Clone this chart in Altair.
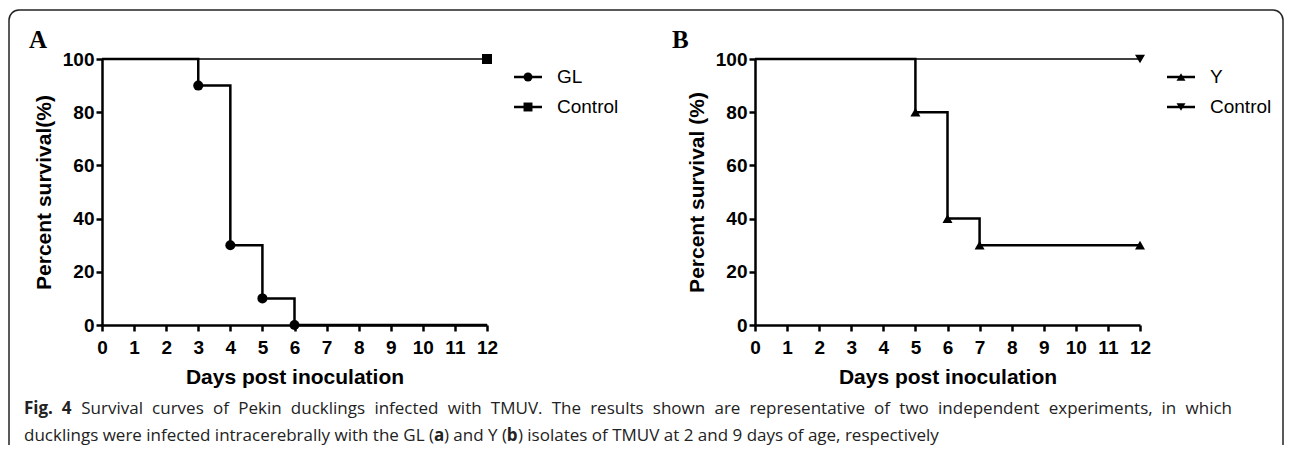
import math
import altair as alt
import pandas as pd

# ---------------- data ----------------
# Panel A: GL isolate
a_days = [0, 3, 4, 5, 6, 12]
a_surv = [100, 90, 30, 10, 0, 0]
a_mark = [False, True, True, True, True, False]
a_ctrl_days = [0, 12]
a_ctrl_surv = [100, 100]
a_ctrl_mark = [False, True]

# Panel B: Y isolate
b_days = [0, 5, 6, 7, 12]
b_surv = [100, 80, 40, 30, 30]
b_mark = [False, True, True, True, True]
b_ctrl_days = [0, 12]
b_ctrl_surv = [100, 100]
b_ctrl_mark = [False, True]

x_ticks = list(range(0, 13))
y_ticks = [0, 20, 40, 60, 80, 100]

caption_line1_runs = [("Fig. 4", True),
                      ("Survival curves of Pekin ducklings infected with TMUV. The results shown are "
                       "representative of two independent experiments, in which", False)]
caption_line2_runs = [("ducklings were infected intracerebrally with the GL (", False), ("a", True),
                      (") and Y (", False), ("b", True),
                      (") isolates of TMUV at 2 and 9 days of age, respectively", False)]

W, H = 385, 266
LABEL_FONT = "Liberation Sans"
CAP_FONT = "Open Sans"
CAP_SIZE = 17
CAP_COL = "#222222"

# approximate Open Sans advance widths (units per 2048 em) used only for caption text layout
_ADV = {" ": 532, "a": 1139, "b": 1255, "c": 975, "d": 1255, "e": 1149, "f": 694, "g": 1122,
        "h": 1257, "i": 518, "j": 518, "k": 1075, "l": 518, "m": 1905, "n": 1257, "o": 1237,
        "p": 1255, "q": 1255, "r": 836, "s": 977, "t": 723, "u": 1257, "v": 1026, "w": 1593,
        "x": 1073, "y": 1028, "z": 959, "F": 1057, "G": 1491, "L": 1073, "M": 1849, "P": 1233,
        "S": 1104, "T": 1112, "U": 1499, "V": 1217, "Y": 1141, ".": 545, ",": 492, "(": 596,
        ")": 596}


def text_w(s, bold):
    w = sum(_ADV.get(c, 1171) for c in s) / 2048.0 * CAP_SIZE
    return w * (1.06 if bold else 1.0)


def frame(days, surv, mark):
    return pd.DataFrame({"day": days, "surv": surv, "mark": mark})


def txt(s, x, y, bold=False, align="left"):
    return alt.Chart().mark_text(text=s, align=align, baseline="middle", font=CAP_FONT,
                                 fontSize=CAP_SIZE, fontWeight="bold" if bold else "normal",
                                 color=CAP_COL).encode(x=alt.value(x), y=alt.value(y))


def justified_line(runs, x0, x1, y):
    words = []
    for s, b in runs:
        for wd in s.split(" "):
            words.append((wd, b))
    widths = [text_w(wd, b) for wd, b in words]
    gap = (x1 - x0 - sum(widths)) / (len(words) - 1)
    out, x = [], x0
    for i, ((wd, b), w) in enumerate(zip(words, widths)):
        if i == len(words) - 1:
            out.append(txt(wd, x1, y, b, align="right"))
        else:
            out.append(txt(wd, x, y, b))
        x += w + gap
    return out


def plain_line(runs, x0, y):
    out, x = [], x0
    for s, b in runs:
        out.append(txt(s, x, y, b))
        x += text_w(s, b)
    return out


def panel(df, ctrl, shape, ctrl_shape, name, ytitle, letter, letter_dx):
    x = alt.X("day:Q", scale=alt.Scale(domain=[0, 12], nice=False, zero=False),
              axis=alt.Axis(values=x_ticks, title="Days post inoculation", format="d"))
    y = alt.Y("surv:Q", scale=alt.Scale(domain=[0, 100], nice=False),
              axis=alt.Axis(values=y_ticks, title=ytitle, format="d"))

    ctrl_line = alt.Chart(ctrl).mark_line(interpolate="step-after", color="black",
                                          strokeWidth=1.5).encode(x=x, y=y)
    main_line = alt.Chart(df).mark_line(interpolate="step-after", color="black",
                                        strokeWidth=2.5).encode(x=x, y=y)
    main_pts = alt.Chart(df).transform_filter("datum.mark").mark_point(
        filled=True, shape=shape, size=100, color="black", opacity=1).encode(x=x, y=y)
    ctrl_pts = alt.Chart(ctrl).transform_filter("datum.mark").mark_point(
        filled=True, shape=ctrl_shape, size=100, color="black", opacity=1).encode(x=x, y=y)

    layers = [ctrl_line, main_line, main_pts, ctrl_pts]

    # legend (manual, to show line + marker symbols)
    for lbl, shp, ly in [(name, shape, 18), ("Control", ctrl_shape, 48)]:
        layers.append(alt.Chart().mark_rule(color="black", strokeWidth=2.5).encode(
            x=alt.value(412), x2=alt.value(440), y=alt.value(ly)))
        layers.append(alt.Chart().mark_point(filled=True, shape=shp, size=80, color="black",
                                             opacity=1).encode(
            x=alt.value(426), y=alt.value(ly)))
        layers.append(alt.Chart().mark_text(text=lbl, align="left", baseline="middle",
                                            font=LABEL_FONT, fontSize=19, color="black").encode(
            x=alt.value(455), y=alt.value(ly)))

    # panel letter
    layers.append(alt.Chart().mark_text(text=letter, align="left", baseline="alphabetic",
                                        font="Liberation Serif", fontWeight="bold",
                                        fontSize=25, color="black").encode(
        x=alt.value(letter_dx), y=alt.value(-11)))
    return layers


A_layers = panel(frame(a_days, a_surv, a_mark), frame(a_ctrl_days, a_ctrl_surv, a_ctrl_mark),
                 "circle", "square", "GL", "Percent survival(%)", "A", -73)
B_layers = panel(frame(b_days, b_surv, b_mark), frame(b_ctrl_days, b_ctrl_surv, b_ctrl_mark),
                 "triangle-up", "triangle-down", "Y", "Percent survival (%)", "B", -83)

# ---------------- figure frame + caption (attached to panel A coordinates) ----------------
L, T, R, BOT, RAD = -93, -49, 1181, 386, 10
frame_col = "#222222"
deco = [
    alt.Chart().mark_rule(color=frame_col, strokeWidth=1.5).encode(
        x=alt.value(L), y=alt.value(T + RAD), y2=alt.value(BOT)),
    alt.Chart().mark_rule(color=frame_col, strokeWidth=1.5).encode(
        x=alt.value(R), y=alt.value(T + RAD), y2=alt.value(BOT)),
    alt.Chart().mark_rule(color=frame_col, strokeWidth=1.5).encode(
        x=alt.value(L + RAD), x2=alt.value(R - RAD), y=alt.value(T)),
    alt.Chart().mark_arc(theta=1.5 * math.pi, theta2=2 * math.pi, radius=RAD + 0.75,
                         radius2=RAD - 0.75, color=frame_col).encode(
        x=alt.value(L + RAD), y=alt.value(T + RAD)),
    alt.Chart().mark_arc(theta=0, theta2=0.5 * math.pi, radius=RAD + 0.75,
                         radius2=RAD - 0.75, color=frame_col).encode(
        x=alt.value(R - RAD), y=alt.value(T + RAD)),
]
deco += justified_line(caption_line1_runs, -78, 1130, 350)
deco += plain_line(caption_line2_runs, -78, 377)

chart_a = alt.layer(*(deco + A_layers)).properties(width=W, height=H)
chart_b = alt.layer(*B_layers).properties(width=W, height=H)

chart = alt.hconcat(chart_a, chart_b, spacing=268, bounds="flush").properties(
    padding={"left": 0, "top": 1, "right": 0, "bottom": 4}
).configure_view(stroke=None).configure_axis(
    grid=False,
    domainColor="black", domainWidth=2.5,
    tickColor="black", tickWidth=2.5, tickSize=6,
    labelFont=LABEL_FONT, labelFontSize=19, labelFontWeight="bold", labelColor="black",
    titleFont=LABEL_FONT, titleFontSize=21, titleFontWeight="bold", titleColor="black",
    labelFlush=False, labelOverlap=False,
).configure_axisX(labelPadding=7, titlePadding=9).configure_axisY(labelPadding=2, titlePadding=8)

chart.save("out.html", embed_options={"renderer": "svg", "actions": False})
